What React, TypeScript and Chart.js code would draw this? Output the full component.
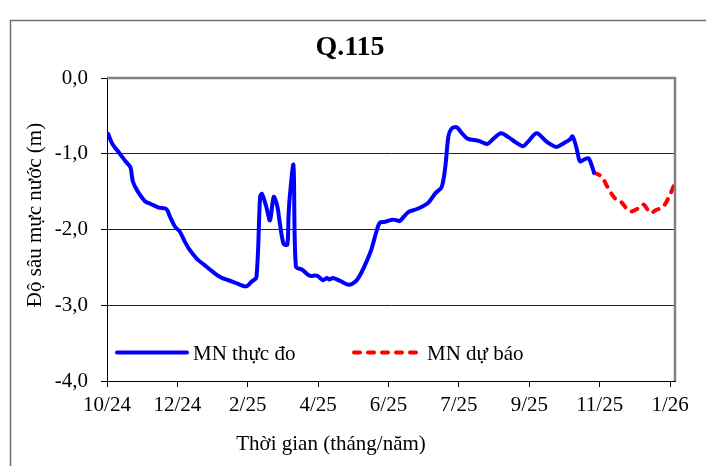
import React, { useEffect, useRef } from 'react';
import { Chart, registerables } from 'chart.js';

Chart.register(...registerables);

const chartTitle = 'Q.115';
const yAxisTitle = 'Độ sâu mực nước (m)';
const xAxisTitle = 'Thời gian (tháng/năm)';
const seriesNames = ['MN thực đo', 'MN dự báo'];

const xTickLabels = ['10/24', '12/24', '2/25', '4/25', '6/25', '7/25', '9/25', '11/25', '1/26'];
const xTickDays = [0, 57, 114, 171, 228, 285, 342, 399, 456];
const yTickLabels = ['-4,0', '-3,0', '-2,0', '-1,0', '0,0'];
const yTickValues = [-4, -3, -2, -1, 0];

const observedDays = [
  1, 4, 6.5, 9, 15, 19, 21, 25, 31, 35, 42, 48, 51, 55, 59, 63, 67, 73, 79, 85,
  92, 102, 108, 113, 117, 121, 124, 125.5, 129, 132, 135, 138, 140, 143, 146, 147,
  148, 151, 153, 158, 164, 170, 175, 178, 180, 183, 189, 195.5, 201, 205, 210, 214,
  218.5, 221, 225, 231, 235, 237, 244, 251, 260, 266, 271, 274, 276.5, 279, 283, 287,
  292, 301, 308, 313, 319, 325, 332, 337, 341, 348, 356, 364, 370, 375, 377, 380,
  383, 386, 390, 394.5,
];
const observedDepth = [
  -0.74, -0.86, -0.92, -0.97, -1.1, -1.18, -1.37, -1.5, -1.63, -1.66, -1.71, -1.73, -1.83, -1.96, -2.03, -2.16, -2.27, -2.39, -2.47, -2.55,
  -2.63, -2.69, -2.73, -2.75, -2.69, -2.63, -1.57, -1.53, -1.7, -1.88, -1.57, -1.7, -1.92, -2.19, -2.2, -1.83,
  -1.57, -1.15, -2.49, -2.53, -2.61, -2.61, -2.67, -2.64, -2.66, -2.64, -2.68, -2.73, -2.69, -2.6, -2.43, -2.27,
  -2.01, -1.91, -1.9, -1.87, -1.88, -1.89, -1.77, -1.73, -1.65, -1.52, -1.44, -1.17, -0.77, -0.67, -0.65, -0.72,
  -0.8, -0.83, -0.87, -0.8, -0.73, -0.78, -0.86, -0.9, -0.84, -0.73, -0.84, -0.91, -0.86, -0.81, -0.77, -0.91,
  -1.1, -1.08, -1.06, -1.25,
];
const forecastDays = [394.5, 400.5, 406, 411.5, 415.5, 423.5, 430.5, 434.5, 440, 445, 450.5, 456, 460];
const forecastDepth = [-1.25, -1.3, -1.46, -1.59, -1.62, -1.76, -1.72, -1.67, -1.78, -1.74, -1.7, -1.54, -1.38];

const FONT = '"Liberation Serif", "Times New Roman", serif';
const BLUE = '#0000ff';
const RED = '#ff0000';

const decorPlugin = {
  id: 'decor',
  afterDraw(chart: any) {
    const ctx = chart.ctx as CanvasRenderingContext2D;
    const a = chart.chartArea;
    ctx.save();
    // outer frame
    ctx.strokeStyle = '#707070';
    ctx.lineWidth = 1.5;
    ctx.beginPath();
    ctx.moveTo(10.5, 466);
    ctx.lineTo(10.5, 20.5);
    ctx.lineTo(706, 20.5);
    ctx.stroke();
    // plot border top/right
    ctx.strokeStyle = '#808080';
    ctx.lineWidth = 2.5;
    ctx.beginPath();
    ctx.moveTo(a.left, a.top);
    ctx.lineTo(a.right, a.top);
    ctx.lineTo(a.right, a.bottom);
    ctx.stroke();
    // title
    ctx.fillStyle = '#000';
    ctx.textAlign = 'center';
    ctx.textBaseline = 'alphabetic';
    ctx.font = `bold 28px ${FONT}`;
    ctx.fillText(chartTitle, 350, 55);
    // x axis title
    ctx.font = `21px ${FONT}`;
    ctx.fillText(xAxisTitle, 331, 450);
    // y axis title
    ctx.save();
    ctx.translate(35, 215);
    ctx.rotate(-Math.PI / 2);
    ctx.textBaseline = 'middle';
    ctx.fillText(yAxisTitle, 0, 0);
    ctx.restore();
    // legend
    const ly = a.top + 274.5;
    const ds = chart.data.datasets;
    ctx.lineCap = 'round';
    ctx.lineWidth = 4;
    ctx.strokeStyle = ds[0].borderColor;
    ctx.setLineDash([]);
    ctx.beginPath();
    ctx.moveTo(a.left + 10, ly);
    ctx.lineTo(a.left + 80, ly);
    ctx.stroke();
    ctx.strokeStyle = ds[1].borderColor;
    ctx.setLineDash(ds[1].borderDash);
    ctx.beginPath();
    ctx.moveTo(a.left + 247, ly);
    ctx.lineTo(a.left + 313, ly);
    ctx.stroke();
    ctx.setLineDash([]);
    ctx.textAlign = 'left';
    ctx.textBaseline = 'alphabetic';
    ctx.fillStyle = '#000';
    ctx.font = `21px ${FONT}`;
    ctx.fillText(ds[0].label, a.left + 86, ly + 7.5);
    ctx.fillText(ds[1].label, a.left + 320, ly + 7.5);
    ctx.restore();
  },
};

export default function App() {
  const ref = useRef<HTMLCanvasElement | null>(null);
  useEffect(() => {
    if (!ref.current) return;
    const chart = new Chart(ref.current, {
      type: 'line',
      data: {
        datasets: [
          {
            label: seriesNames[0],
            data: observedDays.map((d, i) => ({ x: d, y: observedDepth[i] })),
            borderColor: BLUE,
            borderWidth: 4,
            pointRadius: 0,
            tension: 0.3,
            fill: false,
            borderCapStyle: 'round',
            borderJoinStyle: 'round',
          },
          {
            label: seriesNames[1],
            data: forecastDays.map((d, i) => ({ x: d, y: forecastDepth[i] })),
            borderColor: RED,
            borderWidth: 4,
            borderDash: [6, 8],
            borderCapStyle: 'round',
            pointRadius: 0,
            tension: 0.3,
            fill: false,
          },
        ],
      },
      options: {
        animation: false,
        responsive: false,
        devicePixelRatio: 1,
        layout: { padding: { left: 0, top: 78, right: 31, bottom: 0 } },
        plugins: {
          legend: { display: false },
          title: { display: false },
          tooltip: { enabled: false },
        },
        scales: {
          x: {
            type: 'linear',
            min: 0,
            max: 460,
            afterFit: (s: any) => { s.height = 85; },
            afterBuildTicks: (s: any) => { s.ticks = xTickDays.map((v) => ({ value: v })); },
            ticks: {
              autoSkip: false,
              maxRotation: 0,
              padding: 6,
              color: '#000',
              font: { family: FONT, size: 21 },
              callback: (_v: any, i: number) => xTickLabels[i],
            },
            grid: { drawOnChartArea: false, drawTicks: true, tickLength: 6, tickColor: '#000', color: '#000' },
            border: { display: true, color: '#000', width: 1 },
          },
          y: {
            type: 'linear',
            min: -4,
            max: 0,
            afterFit: (s: any) => { s.width = 107; },
            afterBuildTicks: (s: any) => { s.ticks = yTickValues.map((v) => ({ value: v })); },
            ticks: {
              padding: 13,
              color: '#000',
              font: { family: FONT, size: 21 },
              callback: (v: any) => yTickLabels[yTickValues.indexOf(Number(v))],
            },
            grid: {
              drawTicks: true,
              tickLength: 6,
              tickColor: '#000',
              color: (c: any) => (c.tick && c.tick.value === 0 ? 'rgba(0,0,0,0)' : '#222'),
            },
            border: { display: true, color: '#000', width: 1 },
          },
        },
      },
      plugins: [decorPlugin],
    } as any);
    return () => chart.destroy();
  }, []);
  return (
    <div style={{ position: 'fixed', left: 0, top: 0, width: 706, height: 466, background: '#fff' }}>
      <canvas ref={ref} width={706} height={466} style={{ display: 'block', width: 706, height: 466 }} />
    </div>
  );
}
